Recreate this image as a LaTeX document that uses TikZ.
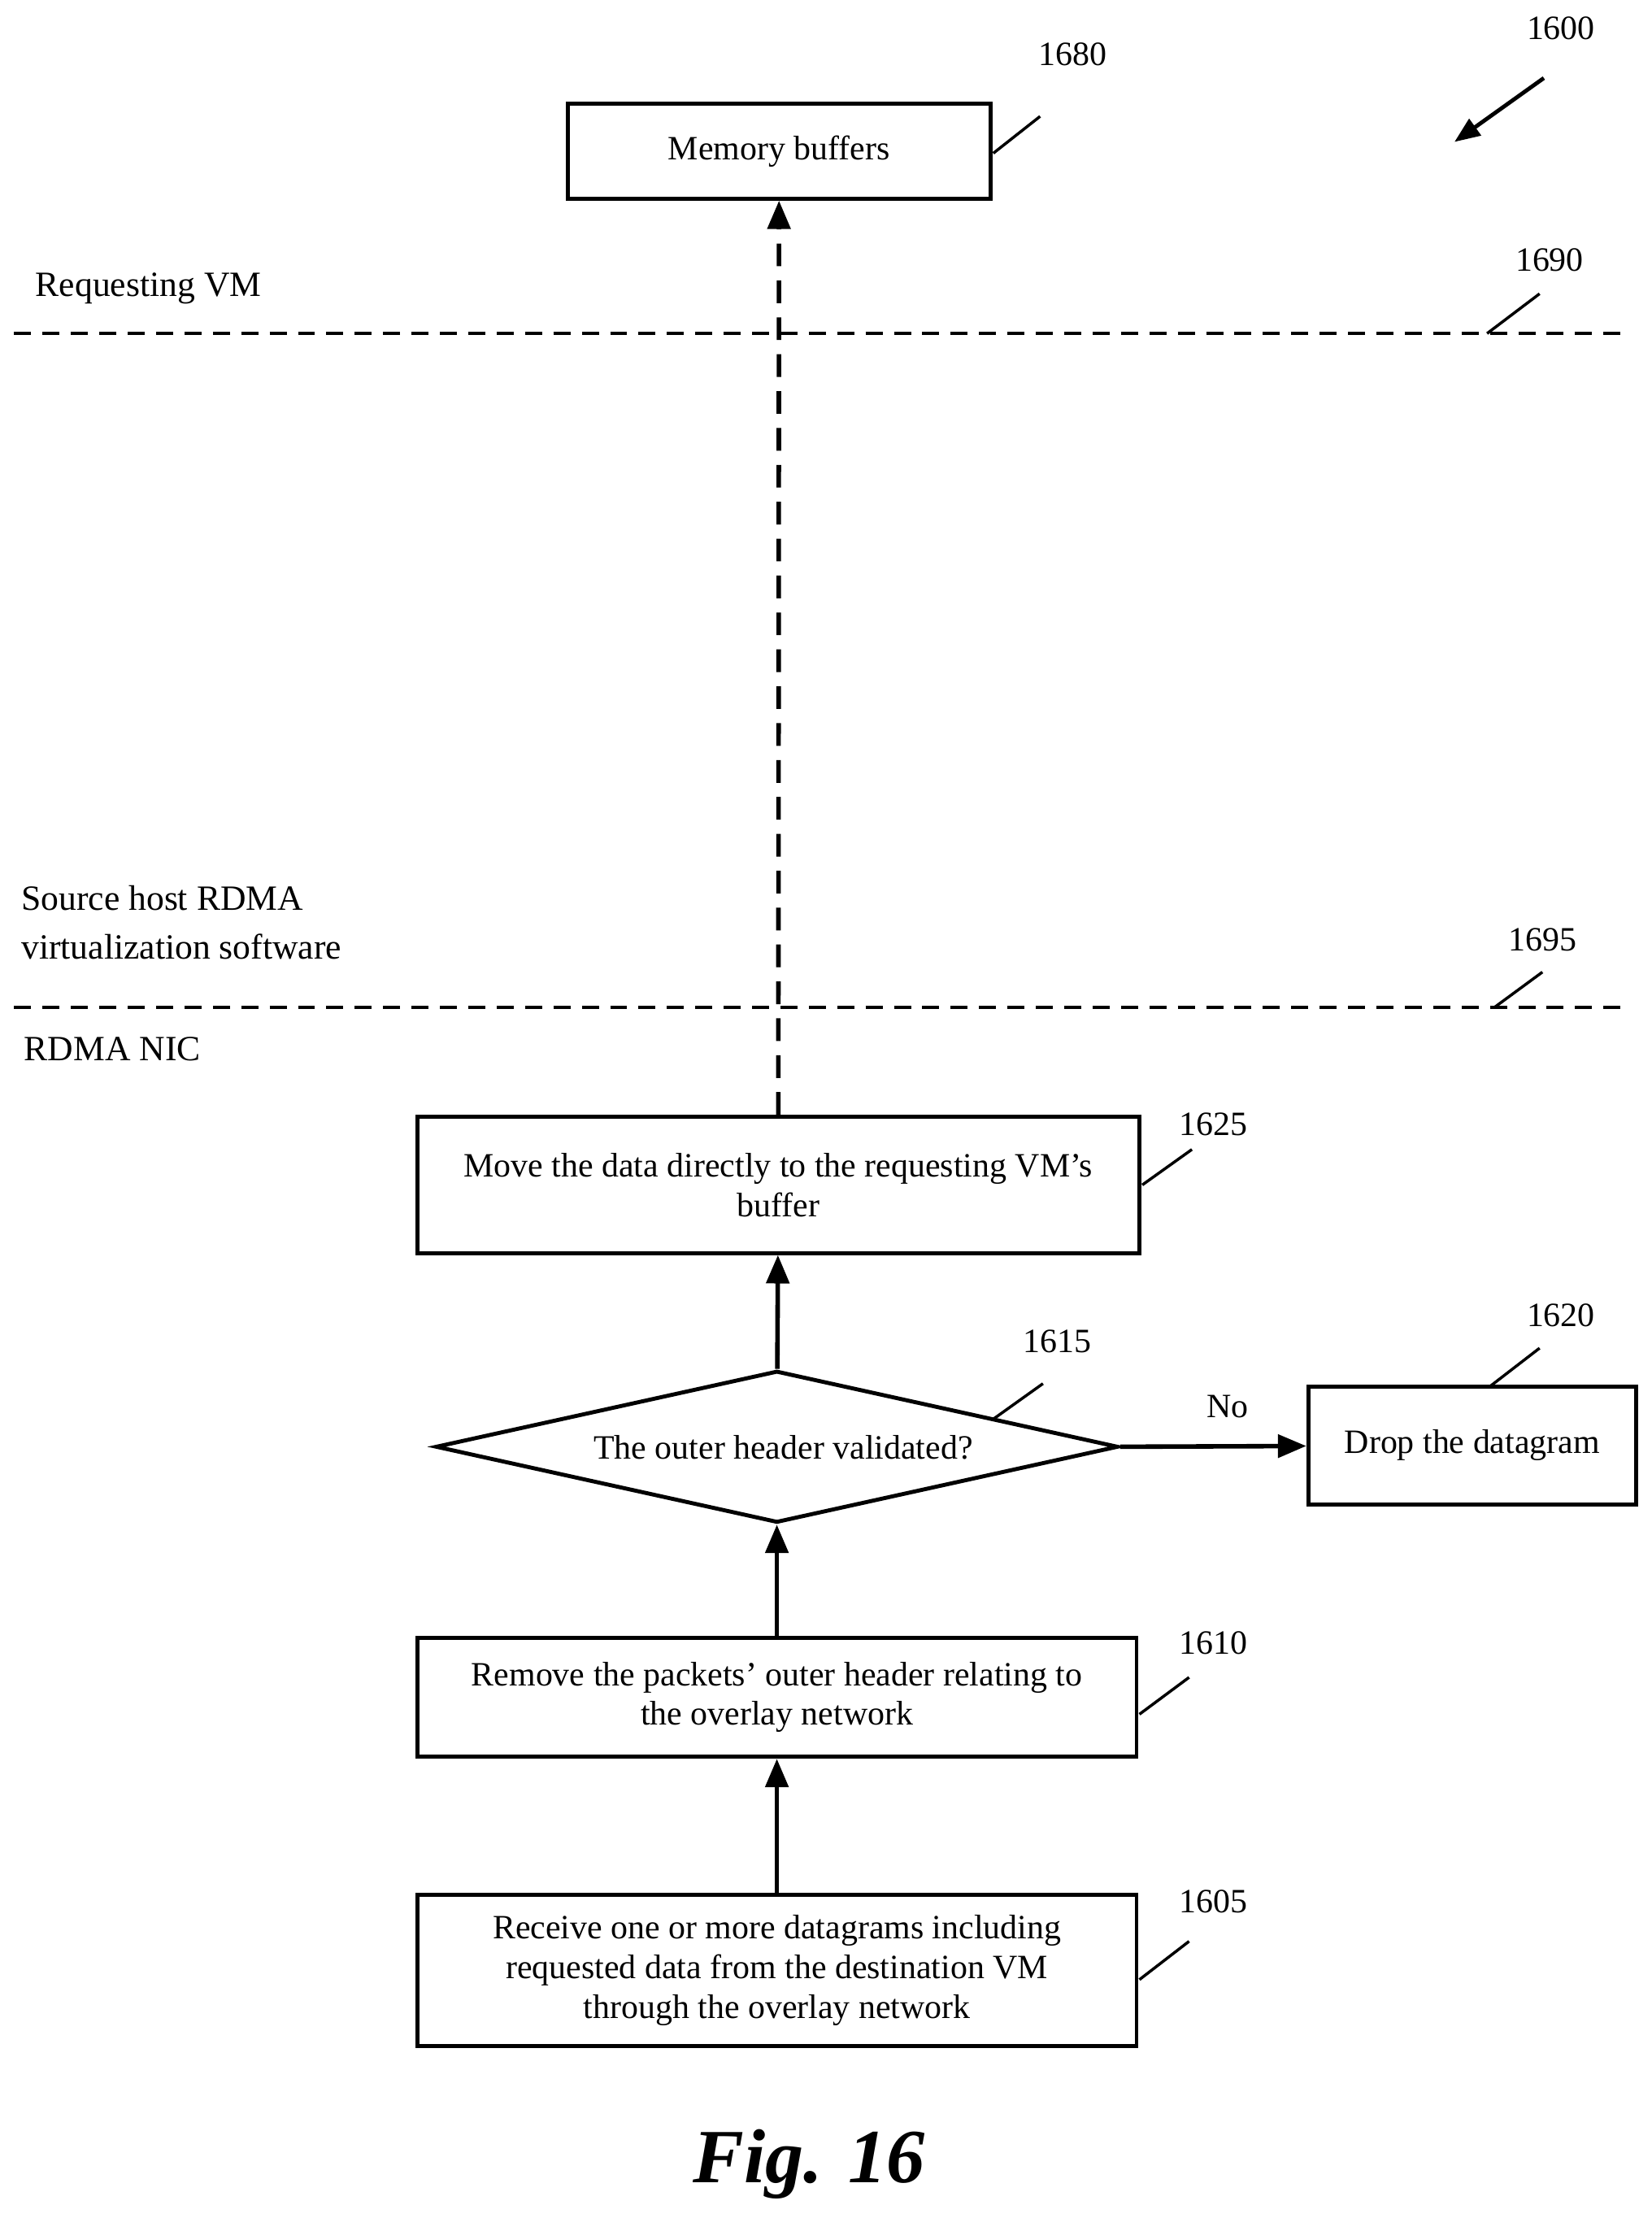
\documentclass[tikz,border=0pt]{standalone}
\usepackage{fontspec}
\setmainfont{Liberation Serif}
\usetikzlibrary{arrows.meta,shapes.geometric}
\begin{document}
\begin{tikzpicture}[x=0.5pt,y=-0.5pt,
  box/.style={draw,line width=1.4pt,inner sep=0pt,align=center,font=\fontsize{12}{14}\selectfont},
  arr/.style={line width=1.6pt,-{Triangle[length=10pt,width=8pt]}},
  lead/.style={line width=1pt},
  num/.style={font=\fontsize{12}{14}\selectfont},
  lbl/.style={font=\fontsize{12.5}{17}\selectfont,anchor=west,align=left},
  sep/.style={line width=1pt,dash pattern=on 6pt off 4pt}]
\useasboundingbox (0,0) rectangle (1164,1563);
\node[box,minimum width=149pt,minimum height=33.5pt] (mem) at (549,106.5) {Memory buffers};
\node[box,minimum width=254.5pt,minimum height=48pt] (b1625) at (548.5,835) {Move the data directly to the requesting VM's\\buffer};
\node[draw,line width=1.4pt,diamond,aspect=4.5,inner sep=0pt,minimum width=240.5pt,minimum height=53.5pt,font=\fontsize{12}{14}\selectfont] (dia) at (547.5,1019.5) {};
\node[font=\fontsize{12}{14}\selectfont] at (552,1020) {The outer header validated?};
\node[box,minimum width=115.5pt,minimum height=41.5pt] (drop) at (1037.5,1018.5) {Drop the datagram};
\node[box,minimum width=253.5pt,minimum height=42pt] (b1610) at (547.5,1196) {Remove the packets' outer header relating to\\the overlay network};
\node[box,minimum width=253.5pt,minimum height=53.5pt] (b1605) at (547.5,1388.5) {Receive one or more datagrams including\\requested data from the destination VM\\through the overlay network};
\draw[arr] (b1605) -- (b1610);
\draw[arr] (b1610) -- (dia);
\draw[arr] (dia) -- (b1625);
\draw[arr] (dia.east) -- node[above=6pt,font=\fontsize{12}{14}\selectfont,xshift=5pt]{No} (drop);
\draw[arr,dash pattern=on 8pt off 5pt] (b1625.north) -- (mem.south);
\draw[sep] (10,235) coordinate (s1) -- (1148,235) coordinate (s2);
\draw[sep] (10,710) coordinate (s3) -- (1148,710) coordinate (s4);
\node[lbl] (rvm) at (18,203) {Requesting VM};
\node[lbl] (src) at (8,650) {Source host RDMA\\virtualization software};
\node[lbl] (nic) at (10,739) {RDMA NIC};
\node[num] (n1600) at (1100,20) {1600};
\draw[line width=1.4pt,-{Triangle[length=9pt,width=7pt]}] (1088,55) -- (1025,100);
\node[num] (n1680) at (756,38) {1680}; \draw[lead] (700,108) -- (733,82);
\node[num] (n1690) at (1092,183) {1690}; \draw[lead] (1048,235) -- (1085,207);
\node[num] (n1695) at (1087,662) {1695}; \draw[lead] (1053,710) -- (1087,685);
\node[num] (n1625) at (855,792) {1625}; \draw[lead] (805,835) -- (840,810);
\node[num] (n1615) at (745,945) {1615}; \draw[lead] (700,1000) -- (735,975);
\node[num] (n1620) at (1100,927) {1620}; \draw[lead] (1050,977) -- (1085,950);
\node[num] (n1610) at (855,1158) {1610}; \draw[lead] (803,1208) -- (838,1182);
\node[num] (n1605) at (855,1340) {1605}; \draw[lead] (803,1395) -- (838,1368);
\node[font=\fontsize{27}{30}\selectfont\bfseries\itshape] (fig) at (570,1525) {Fig. 16};
\end{tikzpicture}
\end{document}
